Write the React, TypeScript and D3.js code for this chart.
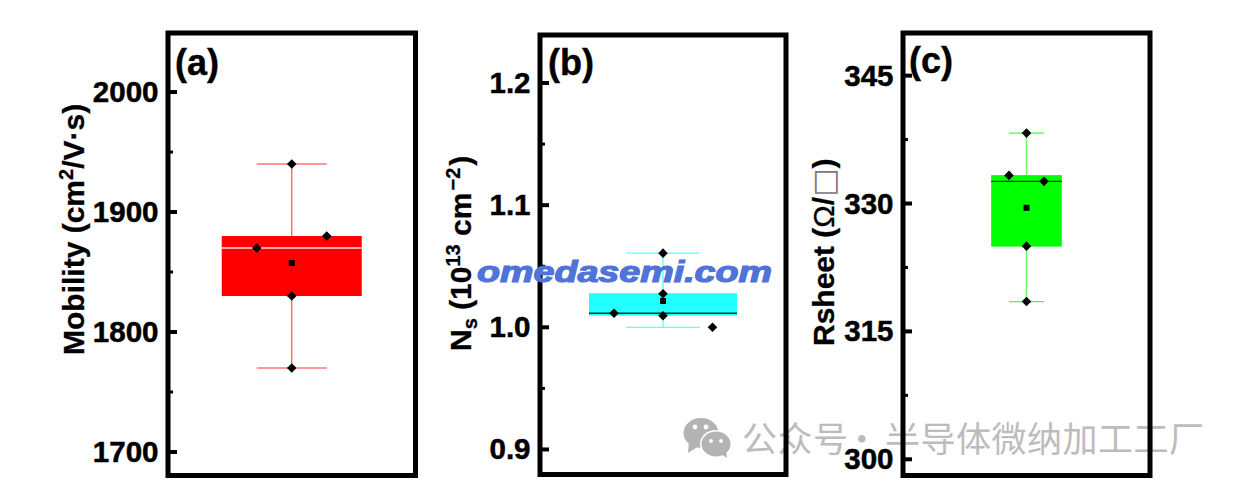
import React from "react";
import * as d3 from "d3";

// --- data ---
const mobilityPoints = [1870, 1880, 1830, 1770, 1940];
const mobilityOffsets = [-35, 35, 0, 0, 0];
const mobilityBox = { q1: 1830, median: 1870, q3: 1880, low: 1770, high: 1940, mean: 1857.5 };
const mobilityTicks = [1700, 1800, 1900, 2000];
const mobilityMinor = [1750, 1850, 1950];

const nsPoints = [1.0115, 1.0607, 1.0275, 1.0095, 1.0];
const nsOffsets = [-49, 0, 0, 0, 49.5];
const nsBox = { q1: 1.0095, median: 1.0115, q3: 1.0279, low: 1.0, high: 1.0607, mean: 1.0215 };
const nsTicks = [0.9, 1.0, 1.1, 1.2];
const nsMinor = [0.95, 1.05, 1.15];

const rsheetPoints = [333.3, 332.6, 325, 338.26, 318.5];
const rsheetOffsets = [-17.5, 17.5, 0, 0, 0];
const rsheetBox = { q1: 324.95, median: 332.6, q3: 333.33, low: 318.5, high: 338.26, mean: 329.5 };
const rsheetTicks = [300, 315, 330, 345];
const rsheetMinor = [307.5, 322.5, 337.5];

const FONT = "'Liberation Sans', Arial, sans-serif";
const watermarkCnA = "公众号";
const watermarkCnDot = "·";
const watermarkCnB = "半导体微纳加工工厂";
const watermarkEn = "omedasemi.com";

type Box = { q1: number; median: number; q3: number; low: number; high: number; mean: number };
type PanelProps = {
  left: number; right: number; top: number; bottom: number;
  domain: [number, number]; ticks: number[]; minor: number[]; fmt: (v: number) => string;
  box: Box; points: number[]; offsets: number[]; halfBox: number; halfCap: number;
  color: string; whisker: string; cap: string; medianColor: string;
  tag: string; tagX: number; tagY: number;
};

function Panel(p: PanelProps) {
  const y = d3.scaleLinear().domain(p.domain).range([p.bottom, p.top]);
  const cx = (p.left + p.right) / 2;
  const x = d3.scaleLinear().domain([-1, 1]).range([cx - 1, cx + 1]);
  const diamond = d3.symbol().type(d3.symbolSquare).size(46)() as string;
  const sq = d3.symbol().type(d3.symbolSquare).size(36)() as string;
  const { box } = p;
  return (
    <g>
      <line x1={x(0)} x2={x(0)} y1={y(box.high)} y2={y(box.q3)} stroke={p.whisker} strokeWidth={1.4} />
      <line x1={x(0)} x2={x(0)} y1={y(box.q1)} y2={y(box.low)} stroke={p.whisker} strokeWidth={1.4} />
      <line x1={x(-p.halfCap)} x2={x(p.halfCap)} y1={y(box.high)} y2={y(box.high)} stroke={p.cap} strokeWidth={1.2} />
      <line x1={x(-p.halfCap)} x2={x(p.halfCap)} y1={y(box.low)} y2={y(box.low)} stroke={p.cap} strokeWidth={1.2} />
      <rect x={x(-p.halfBox)} width={x(p.halfBox) - x(-p.halfBox)} y={y(box.q3)} height={y(box.q1) - y(box.q3)} fill={p.color} />
      <line x1={x(-p.halfBox)} x2={x(p.halfBox)} y1={y(box.median)} y2={y(box.median)} stroke={p.medianColor} strokeWidth={1.3} />
      {p.points.map((v, i) => (
        <path key={i} d={diamond} transform={`translate(${x(p.offsets[i])},${y(v)}) rotate(45)`} fill="#000" />
      ))}
      <path d={sq} transform={`translate(${x(0)},${y(box.mean)})`} fill="#000" />
      <rect x={p.left} y={p.top} width={p.right - p.left} height={p.bottom - p.top} fill="none" stroke="#000" strokeWidth={5} />
      {p.ticks.map((t) => (
        <g key={t}>
          <line x1={p.left} x2={p.left + 9} y1={y(t)} y2={y(t)} stroke="#000" strokeWidth={4} />
          <text x={p.left - 9.5} y={y(t) + 10} textAnchor="end" fontFamily={FONT} fontWeight={700} fontSize={29.5} fill="#000" stroke="#000" strokeWidth={0.5}>{p.fmt(t)}</text>
        </g>
      ))}
      {p.minor.map((t) => (
        <line key={t} x1={p.left} x2={p.left + 5} y1={y(t)} y2={y(t)} stroke="#000" strokeWidth={3} />
      ))}
      <text x={p.tagX} y={p.tagY} fontFamily={FONT} fontWeight={700} fontSize={36} fill="#000" stroke="#000" strokeWidth={0.4}>{p.tag}</text>
    </g>
  );
}

function AxisLabel({ x, y, children }: { x: number; y: number; children: React.ReactNode }) {
  return (
    <text transform={`translate(${x},${y}) rotate(-90)`} fontFamily={FONT} fontWeight={700} fontSize={30} fill="#000" stroke="#000" strokeWidth={0.3}>
      {children}
    </text>
  );
}

function WeChat() {
  return (
    <g fill="#b3b3b3">
      <ellipse cx={701} cy={433} rx={17.5} ry={15} />
      <path d="M689 442 L688 453 L699 446 Z" />
      <ellipse cx={716} cy={444} rx={16} ry={14} fill="#fff" />
      <ellipse cx={716} cy={444} rx={14.5} ry={12.5} />
      <path d="M721 454 L727 458 L726 450 Z" />
      <g fill="#fff">
        <circle cx={695} cy={427} r={2.4} />
        <circle cx={706} cy={427} r={2.4} />
        <circle cx={711} cy={441} r={1.9} />
        <circle cx={721} cy={441} r={1.9} />
      </g>
    </g>
  );
}

export default function App() {
  const cn = { fontFamily: "'Noto Sans CJK SC'", fontSize: 35, fill: "#bcbcbc", letterSpacing: 0.5 };
  return (
    <svg width={1245} height={489} style={{ position: "absolute", left: 0, top: 0, background: "#fff" }}>
      <WeChat />
      <text x={742} y={452} {...cn}>{watermarkCnA}</text>
      <text x={862} y={452} textAnchor="middle" {...cn}>{watermarkCnDot}</text>
      <text x={885} y={452} {...cn}>{watermarkCnB}</text>

      <Panel left={168} right={415.5} top={33} bottom={475.5} domain={[1680.4, 2049.2]}
        ticks={mobilityTicks} minor={mobilityMinor} fmt={(v) => String(v)}
        box={mobilityBox} points={mobilityPoints} offsets={mobilityOffsets} halfBox={70} halfCap={35}
        color="#ff0000" whisker="#ff6a6a" cap="#ff3030" medianColor="#ffe5e5" tag="(a)" tagX={175} tagY={75} />
      <Panel left={540} right={786} top={35} bottom={474.5} domain={[0.8795, 1.2393]}
        ticks={nsTicks} minor={nsMinor} fmt={(v) => v.toFixed(1)}
        box={nsBox} points={nsPoints} offsets={nsOffsets} halfBox={74} halfCap={37}
        color="#22ffff" whisker="#66ffff" cap="#66ffff" medianColor="#063d3d" tag="(b)" tagX={548} tagY={75} />
      <Panel left={903} right={1150} top={33} bottom={475.5} domain={[298.1, 350]}
        ticks={rsheetTicks} minor={rsheetMinor} fmt={(v) => String(v)}
        box={rsheetBox} points={rsheetPoints} offsets={rsheetOffsets} halfBox={35.3} halfCap={17.5}
        color="#00ff00" whisker="#66ff66" cap="#44ff44" medianColor="#063d06" tag="(c)" tagX={909} tagY={73} />

      <AxisLabel x={84} y={355}>
        Mobility (cm<tspan dy={-11} fontSize={20}>2</tspan><tspan dy={11}>/V·s)</tspan>
      </AxisLabel>
      <AxisLabel x={471} y={351}>
        N<tspan dy={6} fontSize={20}>s</tspan><tspan dy={-6}> (10</tspan><tspan dy={-11} fontSize={20}>13</tspan><tspan dy={11}> cm</tspan><tspan dy={-11} fontSize={20} dx={2}>−2</tspan><tspan dy={11} dx={2}>)</tspan>
      </AxisLabel>
      <AxisLabel x={834} y={346}>
        Rsheet (<tspan fontWeight={400}>Ω</tspan>/<tspan fontWeight={400} fontFamily="'DejaVu Sans'" fill="#777" stroke="none">□</tspan>)
      </AxisLabel>

      <text x={477} y={282} fontFamily={FONT} fontWeight={700} fontStyle="italic" fontSize={29} fill="#4f73d9" stroke="#4f73d9" strokeWidth={1.2} textLength={295} lengthAdjust="spacingAndGlyphs">{watermarkEn}</text>
    </svg>
  );
}
